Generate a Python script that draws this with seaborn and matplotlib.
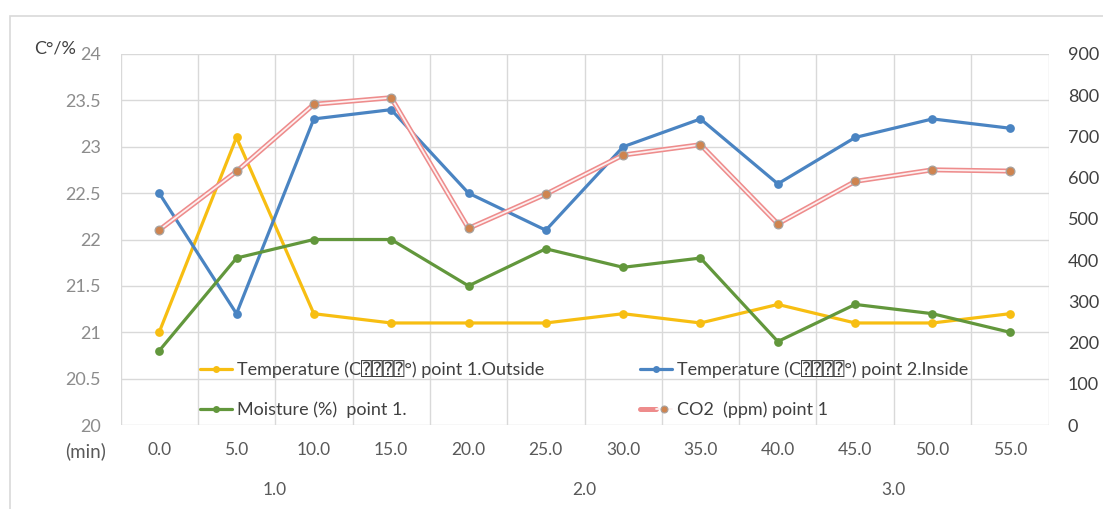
import matplotlib
matplotlib.use("Agg")
import matplotlib.pyplot as plt
import seaborn as sns
import numpy as np
from matplotlib.lines import Line2D
from matplotlib.legend_handler import HandlerTuple
from matplotlib.patches import Rectangle
from matplotlib.transforms import blended_transform_factory

# ---- data -------------------------------------------------------------
minutes = ["0.0", "5.0", "10.0", "15.0", "20.0", "25.0",
           "30.0", "35.0", "40.0", "45.0", "50.0", "55.0"]
groups = ["1.0", "2.0", "3.0"]
group_size = 4

temp_outside = [21.0, 23.1, 21.2, 21.1, 21.1, 21.1, 21.2, 21.1, 21.3, 21.1, 21.1, 21.2]
temp_inside = [22.5, 21.2, 23.3, 23.4, 22.5, 22.1, 23.0, 23.3, 22.6, 23.1, 23.3, 23.2]
moisture = [20.8, 21.8, 22.0, 22.0, 21.5, 21.9, 21.7, 21.8, 20.9, 21.3, 21.2, 21.0]
co2 = [473, 615, 778, 794, 477, 560, 655, 680, 488, 591, 619, 616]

left_ticks = [20, 20.5, 21, 21.5, 22, 22.5, 23, 23.5, 24]
right_ticks = [0, 100, 200, 300, 400, 500, 600, 700, 800, 900]

labels = ["Temperature (C\u2370\u2370\u2370\u2370°) point 1.Outside",
          "Temperature (C\u2370\u2370\u2370\u2370°) point 2.Inside",
          "Moisture (%)  point 1.",
          "CO2  (ppm) point 1"]

# ---- style ------------------------------------------------------------
sns.set_theme(style="white")
plt.rcParams["font.family"] = ["Lato", "DejaVu Sans Mono", "DejaVu Sans"]

C_YEL = "#F7BE12"
C_BLU = "#4A84C2"
C_GRN = "#62973C"
C_RED = "#EE8C8C"
C_RED_IN = "#FDF0F0"
C_MRK = "#CF844F"
C_MRK_EDGE = "#A8A29E"
GRID = "#D9D9D9"

W, H = 1103, 509
fig = plt.figure(figsize=(W / 100, H / 100), dpi=100)
fig.patch.set_facecolor("white")

def fx(px):
    return px / W

def fy(py):
    return 1 - py / H

L, R, T, B = 120.5, 1048.5, 54, 425
ax = fig.add_axes([fx(L), fy(B), fx(R) - fx(L), fy(T) - fy(B)])
ax2 = ax.twinx()

x = np.arange(len(minutes))
lw = 2.3
ms = 6.3

sns.lineplot(x=x, y=temp_outside, ax=ax, color=C_YEL, lw=lw, marker="o",
             markersize=ms, markeredgewidth=0, markerfacecolor=C_YEL)
sns.lineplot(x=x, y=temp_inside, ax=ax, color=C_BLU, lw=lw, marker="o",
             markersize=ms, markeredgewidth=0, markerfacecolor=C_BLU)
sns.lineplot(x=x, y=moisture, ax=ax, color=C_GRN, lw=lw, marker="o",
             markersize=ms, markeredgewidth=0, markerfacecolor=C_GRN)

# CO2: double (outlined) line with brown markers on the secondary axis
sns.lineplot(x=x, y=co2, ax=ax2, color=C_RED, lw=3.6)
sns.lineplot(x=x, y=co2, ax=ax2, color=C_RED_IN, lw=1.3)
sns.lineplot(x=x, y=co2, ax=ax2, color=C_MRK, lw=0, marker="o",
             markersize=ms, markeredgewidth=0.9, markeredgecolor=C_MRK_EDGE,
             markerfacecolor=C_MRK)

# ---- axes -------------------------------------------------------------
ax.set_xlim(-0.5, len(minutes) - 0.5)
ax.set_ylim(20, 24)
ax2.set_ylim(0, 900)

ax.set_xticks(x)
ax.set_xticklabels(minutes)
ax.set_xticks(np.arange(-0.5, len(minutes)), minor=True)
ax.set_yticks(left_ticks)
ax.set_yticklabels([f"{v:g}" for v in left_ticks])
ax2.set_yticks(right_ticks)
ax2.set_yticklabels([str(v) for v in right_ticks])

ax.grid(False)
ax2.grid(False)
ax.xaxis.grid(True, which="minor", color=GRID, lw=1)
ax.yaxis.grid(True, which="major", color=GRID, lw=1)
ax.set_axisbelow(True)

for a in (ax, ax2):
    for s in a.spines.values():
        s.set_visible(False)
    a.set_xlabel("")
    a.set_ylabel("")

ax.tick_params(axis="x", which="both", length=0, pad=12, labelsize=12.5,
               labelcolor="#595959")
ax.tick_params(axis="y", length=0, pad=14, labelsize=13, labelcolor="#8C8C8C")
ax2.tick_params(axis="y", length=0, pad=14, labelsize=13, labelcolor="#404040")

# second-level category labels (grouped below the minute labels)
trans = blended_transform_factory(ax.transData, fig.transFigure)
for i, g in enumerate(groups):
    centre = i * group_size + (group_size - 1) / 2
    ax.text(centre, fy(490), g, transform=trans, ha="center", va="center",
            fontsize=12.5, color="#595959")

fig.text(fx(86), fy(451), "(min)", ha="center", va="center",
         fontsize=13.5, color="#595959")
fig.text(fx(34), fy(49), "C°/%", ha="left", va="center",
         fontsize=13, color="#404040")

# ---- legend -----------------------------------------------------------
def h(color):
    return Line2D([], [], color=color, lw=2.3, marker="o", markersize=5,
                  markeredgewidth=0, markerfacecolor=color)

co2_handle = (Line2D([], [], color=C_RED, lw=3.6),
              Line2D([], [], color=C_RED_IN, lw=1.3, marker="o", markersize=5,
                     markerfacecolor=C_MRK, markeredgecolor=C_MRK_EDGE,
                     markeredgewidth=0.8))

leg_kw = dict(frameon=False, fontsize=13, borderpad=0, borderaxespad=0,
              handlelength=1.75, handletextpad=0.3, labelspacing=1.3,
              labelcolor="#404040", bbox_transform=fig.transFigure,
              loc="upper left", handler_map={tuple: HandlerTuple(ndivide=None)})

leg1 = ax2.legend([h(C_YEL), h(C_GRN)], [labels[0], labels[2]],
                  bbox_to_anchor=(fx(200), fy(360)), **leg_kw)
ax2.add_artist(leg1)
ax2.legend([h(C_BLU), co2_handle], [labels[1], labels[3]],
           bbox_to_anchor=(fx(640), fy(360)), **leg_kw)

# chart border
fig.patches.append(Rectangle((fx(10), -0.05), 1.2, fy(16) + 0.05,
                             transform=fig.transFigure, fill=False,
                             edgecolor="#D9D9D9", lw=1.2))

fig.savefig("out.png", dpi=100)
